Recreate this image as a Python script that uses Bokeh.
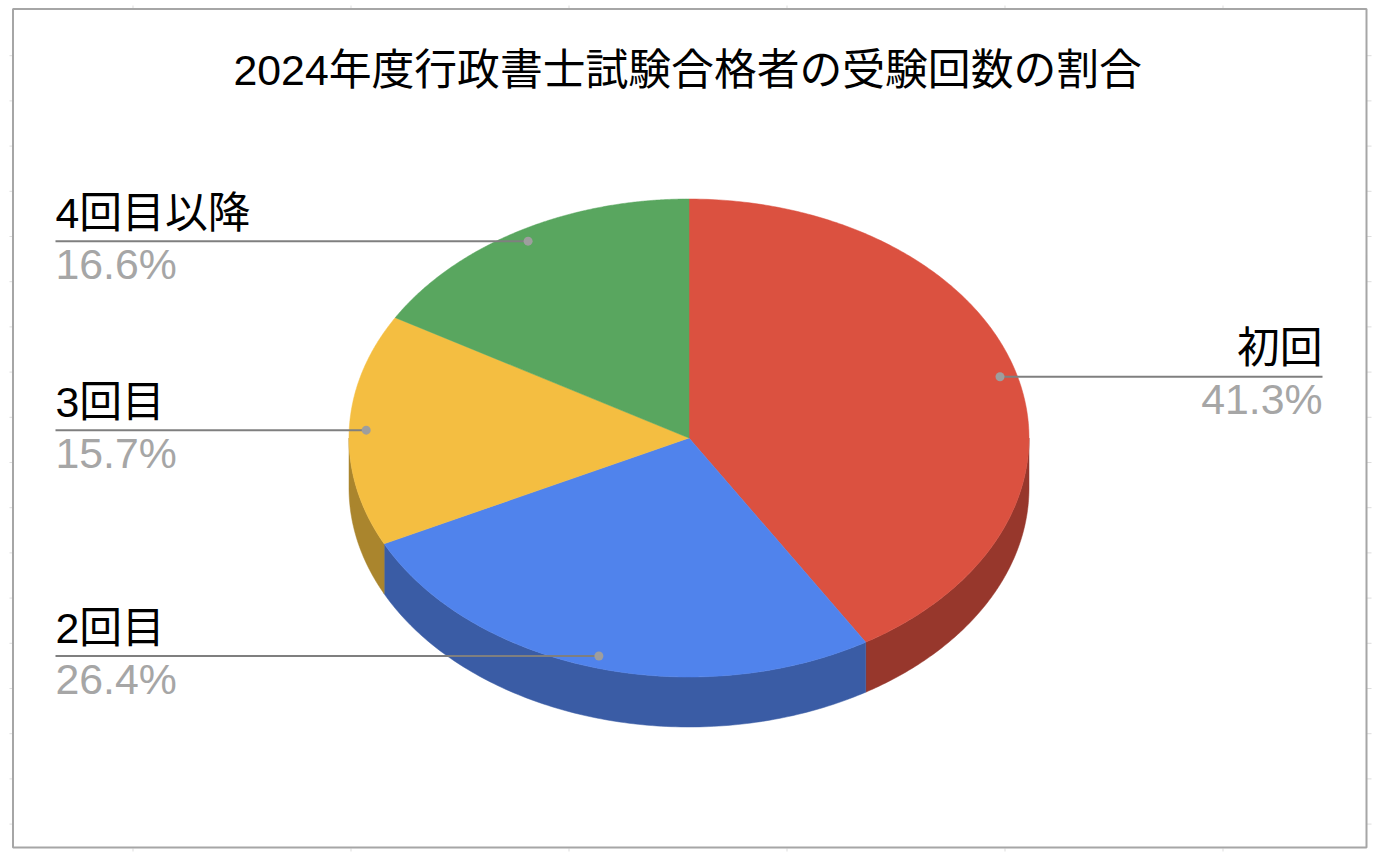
import numpy as np
from bokeh.plotting import figure
from bokeh.core.properties import value
from bokeh.embed import file_html
from bokeh.resources import INLINE

TITLE = "2024年度行政書士試験合格者の受験回数の割合"
labels = ["初回", "2回目", "3回目", "4回目以降"]
percents = [41.3, 26.4, 15.7, 16.6]
top_colors = ["#DB5140", "#5083EC", "#F4BE41", "#59A65F"]
side_colors = ["#97372C", "#3A5CA5", "#AA852D", "#3E7442"]

FONT = value("Liberation Sans, Arial, 'Noto Sans CJK JP', sans-serif")
W, H = 1372, 852
CX, CY, RX, RY, DEPTH = 688.5, 437.5, 340.0, 239.0, 50.0
FS = "42.8px"
TEXT_SHIFT = -16.5

p = figure(width=W, height=H, x_range=(0, W), y_range=(H, 0),
           output_backend="svg", toolbar_location=None, min_border=0,
           outline_line_color=None, background_fill_color="white",
           border_fill_color="white", x_axis_location=None, y_axis_location=None)
p.xgrid.visible = False
p.ygrid.visible = False


def ex(t, k=1.0):
    return CX + RX * k * np.sin(t)


def ey(t, k=1.0):
    return CY - RY * k * np.cos(t)


# spreadsheet grid stubs showing round the chart's frame
row_ticks = [10 + 45.2 * i for i in range(1, 19)]
col_ticks = [132.5 + 218 * i for i in range(6)]
p.segment([9.0] * len(row_ticks), row_ticks, [12.0] * len(row_ticks), row_ticks,
          line_color="#dddddd", line_width=1)
p.segment([1366.0] * len(row_ticks), row_ticks, [1371.0] * len(row_ticks), row_ticks,
          line_color="#dddddd", line_width=1)
p.segment(col_ticks, [5.0] * 6, col_ticks, [8.0] * 6, line_color="#dddddd", line_width=1)
p.segment(col_ticks, [848.0] * 6, col_ticks, [851.0] * 6, line_color="#dddddd", line_width=1)

# frame
p.quad(left=[12.5], right=[1366], top=[8.5], bottom=[847], fill_color="white",
       line_color="#a6a6a6", line_width=2)

# slice angles
edges = np.concatenate([[0.0], np.cumsum(percents)]) / 100.0 * 2 * np.pi

# side walls (only the front half of the disc shows)
for i, col in enumerate(side_colors):
    a = max(edges[i], np.pi / 2)
    b = min(edges[i + 1], 3 * np.pi / 2)
    if b <= a:
        continue
    t = np.linspace(a, b, 120)
    xs = np.concatenate([ex(t), ex(t[::-1])])
    ys = np.concatenate([ey(t), ey(t[::-1]) + DEPTH])
    p.patch(xs, ys, fill_color=col, line_color=col, line_width=0.5)

# top of the disc
for i, col in enumerate(top_colors):
    t = np.linspace(edges[i], edges[i + 1], 240)
    xs = np.concatenate([[CX], ex(t)])
    ys = np.concatenate([[CY], ey(t)])
    p.patch(xs, ys, fill_color=col, line_color=col, line_width=0.5)

# leader lines, dots and labels
mids = (edges[:-1] + edges[1:]) / 2
for i, (lab, pct) in enumerate(zip(labels, percents)):
    dx, dy = float(ex(mids[i], 0.95)), float(ey(mids[i], 0.95))
    right_side = dx > CX
    edge = 1322.0 if right_side else 55.0
    p.line([dx, edge], [dy, dy], line_color="#7f7f7f", line_width=2)
    p.scatter([dx], [dy], size=9, marker="circle", fill_color="#9e9e9e", line_color=None)
    align = "right" if right_side else "left"
    p.text([edge], [dy - 12 + TEXT_SHIFT], text=[lab], text_align=align, text_baseline="alphabetic",
           text_font=FONT, text_font_size=FS, text_color="#000000")
    p.text([edge], [dy + 39 + TEXT_SHIFT], text=[f"{pct}%"], text_align=align, text_baseline="alphabetic",
           text_font=FONT, text_font_size=FS, text_color="#a6a6a6")

p.text([233.0], [86.0 + TEXT_SHIFT], text=[TITLE], text_align="left", text_baseline="alphabetic",
       text_font=FONT, text_font_size=FS, text_color="#000000")

open("out.html", "w").write(file_html(p, INLINE))
